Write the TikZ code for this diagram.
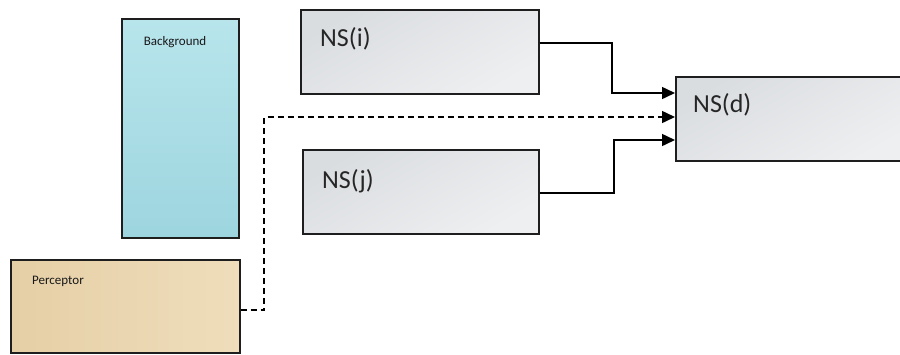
\documentclass[tikz,border=0pt]{standalone}
\usepackage{fontspec}
\setmainfont{Carlito}
\usetikzlibrary{arrows.meta}
\definecolor{bgcyan}{HTML}{B8E5EC}
\definecolor{bgcyandk}{HTML}{9DD5DF}
\definecolor{sand}{HTML}{EFDDBB}
\definecolor{sanddk}{HTML}{E5CFA6}
\definecolor{marble}{HTML}{EEEFF1}
\definecolor{marbledk}{HTML}{DADDE0}
\definecolor{edge}{HTML}{1E1E1E}
\tikzset{
  box/.style={draw=edge, line width=1.5pt},
  marblebox/.style={box, top color=marbledk, bottom color=marble, shading angle=30},
  waterbox/.style={box, top color=bgcyan, bottom color=bgcyandk},
  sandbox/.style={box, left color=sanddk, right color=sand},
  bigtxt/.style={font=\fontsize{26}{30}\selectfont, text=black!85, inner sep=0pt},
  smalltxt/.style={font=\fontsize{13}{15}\selectfont, text=black!90, inner sep=0pt},
  conn/.style={line width=1.5pt, draw=black},
  tip/.style={-{Triangle[length=13pt,width=12pt]}},
  dashconn/.style={conn, dash pattern=on 6pt off 4pt}
}
\begin{document}
\begin{tikzpicture}[x=1pt,y=-1pt]
\useasboundingbox (0,0) rectangle (900,354);
\fill[white] (0,0) rectangle (900,354);
% boxes
\node[waterbox, minimum width=117pt, minimum height=219pt, anchor=north west, inner sep=0pt] (bg) at (121,18) {};
\node[sandbox, minimum width=229pt, minimum height=93pt, anchor=north west, inner sep=0pt] (perc) at (10,259) {};
\node[marblebox, minimum width=238pt, minimum height=84pt, anchor=north west, inner sep=0pt] (nsi) at (300,9) {};
\node[marblebox, minimum width=236pt, minimum height=84pt, anchor=north west, inner sep=0pt] (nsj) at (302,149) {};
\node[marblebox, minimum width=232pt, minimum height=84pt, anchor=north west, inner sep=0pt] (nsd) at (675,76) {};
% labels
\node[smalltxt, anchor=base] (bgl) at (175,45) {Background};
\node[smalltxt, anchor=base west] (percl) at (32,284) {Perceptor};
\node[bigtxt, anchor=base west] (nsil) at (320,46) {NS(i)};
\node[bigtxt, anchor=base west] (nsjl) at (322,188) {NS(j)};
\node[bigtxt, anchor=base west] (nsdl) at (693,112) {NS(d)};
% connectors
\coordinate (a1) at (612,43);
\coordinate (a2) at (612,93);
\coordinate (b1) at (614,193);
\coordinate (b2) at (614,140);
\coordinate (c1) at (264,310);
\coordinate (c2) at (264,117);
\draw[conn, tip] (nsi.east |- a1) -- (a1) -- (a2) -- (nsd.west |- a2);
\draw[conn, tip] (nsj.east |- b1) -- (b1) -- (b2) -- (nsd.west |- b2);
\draw[dashconn, tip] (perc.east |- c1) -- (c1) -- (c2) -- (nsd.west |- c2);
\end{tikzpicture}
\end{document}
